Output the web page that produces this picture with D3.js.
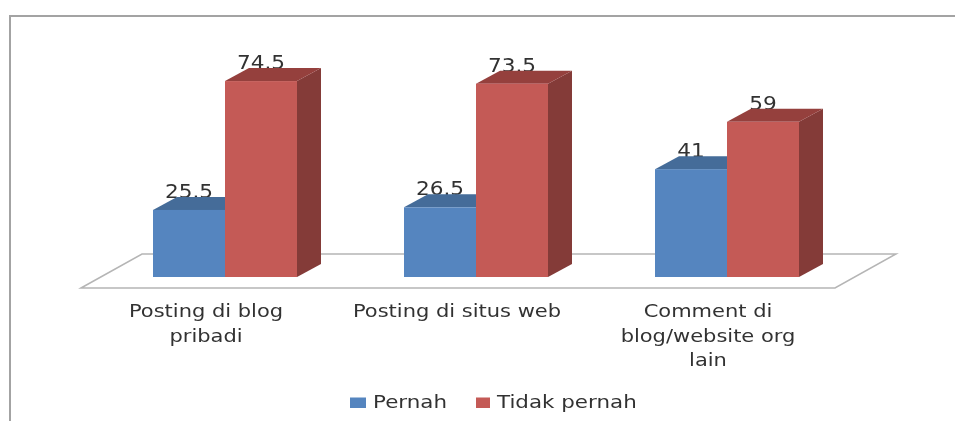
<!DOCTYPE html>
<html>
<head>
<meta charset="utf-8">
<script src="https://cdn.jsdelivr.net/npm/d3@7"></script>
<style>
    html, body { margin: 0; padding: 0; background: #fff; overflow: hidden; }
    text { font-family: "DejaVu Sans", sans-serif; fill: #333; }
</style>
</head>
<body>
<div id="chart"></div>
<script>
const categories = [["Posting di blog", "pribadi"], ["Posting di situs web"], ["Comment di", "blog/website org", "lain"]];
const series_names = ["Pernah", "Tidak pernah"];
const pernah = [25.5, 26.5, 41];
const tidak_pernah = [74.5, 73.5, 59];

const width = 955, height = 421;
const depth_x = 24, depth_y = 13;
const colors = [
    {front: "#5585bf", top: "#446c99", side: "#3a5d85"},
    {front: "#c45a56", top: "#953f3c", side: "#843a38"}
];

let svg = d3.select("#chart").append("svg")
    .attr("width", width)
    .attr("height", height);

svg.append("filter").attr("id", "soft")
    .append("feGaussianBlur").attr("stdDeviation", 0.55);

let root = svg.append("g").attr("filter", "url(#soft)");

let x = d3.scaleBand()
    .domain(d3.range(categories.length))
    .range([99.5, 852.5]);

let x_inner = d3.scaleBand()
    .domain([0, 1])
    .range([0, 144]);

let y = d3.scaleLinear()
    .domain([0, 100])
    .range([277, 14]);

// the picture is a stretched screenshot, so text is wider than the font
function stretched_text(parent, px, py, str, size, sx, sy, anchor) {
    return parent.append("text")
        .attr("transform", `translate(${px},${py}) scale(${sx},${sy})`)
        .attr("text-anchor", anchor)
        .attr("font-size", size)
        .text(str);
}

// outer frame, only left and top are visible
root.append("path")
    .attr("d", `M10,${height} V16 H${width}`)
    .attr("fill", "none")
    .attr("stroke", "#a3a3a3")
    .attr("stroke-width", 2);

// floor of the 3d plot
root.append("path")
    .attr("d", "M81,288 L142,254 H896 L835,288 Z")
    .attr("fill", "#fff")
    .attr("stroke", "#b5b5b5")
    .attr("stroke-width", 1.5);

function bar_x(i, s) {
    return x(i) + (x.bandwidth() - x_inner.range()[1]) / 2 + x_inner(s);
}

[pernah, tidak_pernah].forEach(function (values, s) {
    let group = root.append("g").attr("class", "series_" + s);
    let bw = x_inner.bandwidth();

    values.forEach(function (v, i) {
        let x0 = bar_x(i, s), y0 = y(v), base = y(0);
        let g = group.append("g");

        // value label sits under the bar top, bar cuts off its lower edge
        stretched_text(g, x0 + bw / 2, y0 - depth_y + 1, v, 21, 1.03, 0.9, "middle");

        g.append("path")
            .attr("d", `M${x0 + bw},${base} l${depth_x},${-depth_y} V${y0 - depth_y} L${x0 + bw},${y0} Z`)
            .attr("fill", colors[s].side);
        g.append("path")
            .attr("d", `M${x0},${y0} l${depth_x},${-depth_y} h${bw} l${-depth_x},${depth_y} Z`)
            .attr("fill", colors[s].top);
        g.append("rect")
            .attr("x", x0)
            .attr("y", y0)
            .attr("width", bw)
            .attr("height", base - y0)
            .attr("fill", colors[s].front);
    });
});

// category labels
categories.forEach(function (lines, i) {
    lines.forEach(function (line, j) {
        stretched_text(root, x(i) + x.bandwidth() / 2 - 19, 317 + j * 24.5, line, 17.5, 1.2, 1, "middle");
    });
});

// legend
let legend_x = [350, 476];
let legend_text_x = [373, 497];
series_names.forEach(function (name, s) {
    root.append("rect")
        .attr("x", legend_x[s])
        .attr("y", 397.5)
        .attr("width", s === 0 ? 16 : 14)
        .attr("height", 10.5)
        .attr("fill", colors[s].front);
    stretched_text(root, legend_text_x[s], 408, name, 17, 1.26, 1, "start");
});
</script>
</body>
</html>
